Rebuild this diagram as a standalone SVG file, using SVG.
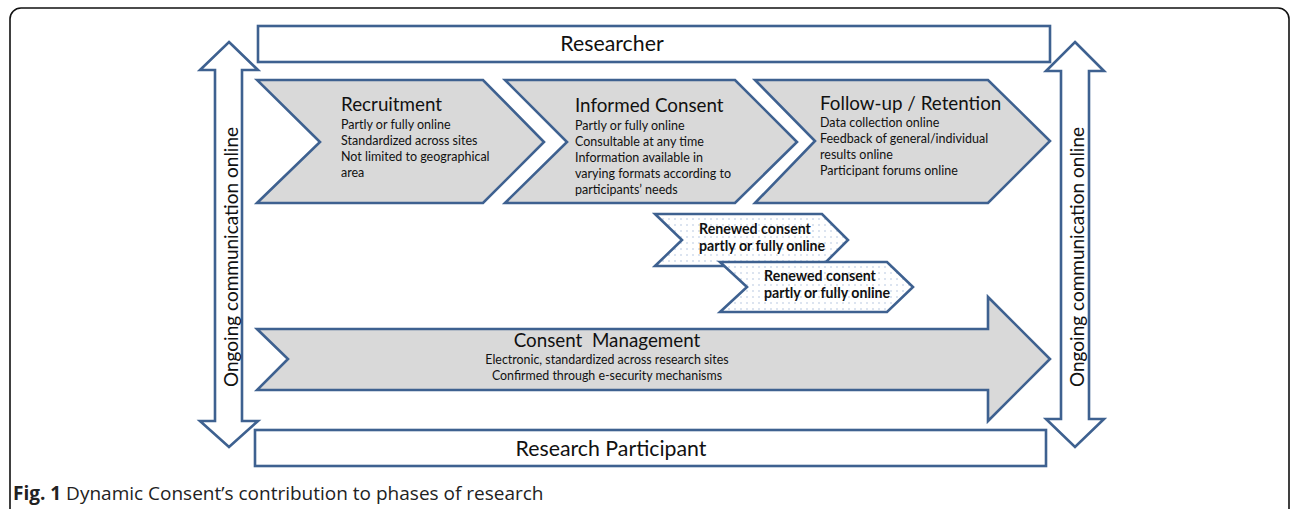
<svg xmlns="http://www.w3.org/2000/svg" width="1292" height="509" viewBox="0 0 1292 509">
<style>
.sh{stroke:#3e6190;stroke-width:2.6;stroke-linejoin:miter}
.g{fill:#d9d9d9}
.w{fill:#ffffff}
.d{fill:url(#dots)}
text{font-family:Lato,"Open Sans","Liberation Sans",sans-serif;fill:#111}
.t{font-size:18.8px}
.b{font-size:12.5px}
.cm{font-size:12.4px}
.rb{font-size:14.2px;font-weight:bold}
.big{font-size:21.3px}
.og{font-size:19px}
.cap{font-family:"Open Sans","Liberation Sans",sans-serif;font-size:19px;fill:#222}
</style>
<defs>
<pattern id="dots" width="6" height="6" patternUnits="userSpaceOnUse">
<rect width="6" height="6" fill="#ffffff"/>
<circle cx="3" cy="3" r="0.7" fill="#9fb4d8"/>
</pattern>
</defs>
<rect x="0" y="0" width="1292" height="509" fill="#ffffff"/>
<rect x="10" y="8" width="1279" height="520" rx="11" fill="none" stroke="#111" stroke-width="1.6"/>

<g id="researcher">
<rect class="sh w" x="258" y="26" width="792" height="36"/>
<text class="big" x="612" y="51" text-anchor="middle">Researcher</text>
</g>

<g id="participant">
<rect class="sh w" x="255" y="430" width="791" height="36"/>
<text class="big" x="611" y="456" text-anchor="middle">Research Participant</text>
</g>

<g id="left-arrow">
<polygon class="sh w" points="229,42 258,70 242,70 242,421 258,421 229,447 200,421 215,421 215,70 200,70"/>
<text class="og" transform="translate(238,257) rotate(-90)" text-anchor="middle">Ongoing communication online</text>
</g>

<g id="right-arrow">
<polygon class="sh w" points="1075,42 1104,71 1089,71 1089,419 1104,419 1075,447 1046,419 1061,419 1061,71 1046,71"/>
<text class="og" transform="translate(1084,257) rotate(-90)" text-anchor="middle">Ongoing communication online</text>
</g>

<g id="recruitment">
<polygon class="sh g" points="257,80 483,80 544,142 483,203 257,203 320,142"/>
<text class="t" x="341" y="111">Recruitment</text>
<text class="b" x="341" y="129">Partly or fully online</text>
<text class="b" x="341" y="145">Standardized across sites</text>
<text class="b" x="341" y="161">Not limited to geographical</text>
<text class="b" x="341" y="177">area</text>
</g>

<g id="informed-consent">
<polygon class="sh g" points="505,80 735,80 797,142 735,203 505,203 567,142"/>
<text class="t" x="575" y="112">Informed Consent</text>
<text class="b" x="575" y="130">Partly or fully online</text>
<text class="b" x="575" y="146">Consultable at any time</text>
<text class="b" x="575" y="162">Information available in</text>
<text class="b" x="575" y="178">varying formats according to</text>
<text class="b" x="575" y="194">participants’ needs</text>
</g>

<g id="follow-up">
<polygon class="sh g" points="755,80 988,80 1050,141 988,203 755,203 815,141"/>
<text class="t" x="820" y="110">Follow-up / Retention</text>
<text class="b" x="820" y="127">Data collection online</text>
<text class="b" x="820" y="143">Feedback of general/individual</text>
<text class="b" x="820" y="159">results online</text>
<text class="b" x="820" y="175">Participant forums online</text>
</g>

<g id="renewed-1">
<polygon class="sh d" points="655,214 822,214 848,240 822,266 655,266 682,240"/>
<text class="rb" x="699" y="234">Renewed consent</text>
<text class="rb" x="699" y="251">partly or fully online</text>
</g>

<g id="renewed-2">
<polygon class="sh d" points="720,262 887,262 913,287 887,312 720,312 747,287"/>
<text class="rb" x="764" y="281">Renewed consent</text>
<text class="rb" x="764" y="298">partly or fully online</text>
</g>

<g id="consent-management">
<polygon class="sh g" points="257,329 988,329 988,297 1050,359 988,421 988,390 257,390 288,359"/>
<text class="t" x="607" y="347" text-anchor="middle" xml:space="preserve">Consent  Management</text>
<text class="cm" x="607" y="364" text-anchor="middle">Electronic, standardized across research sites</text>
<text class="cm" x="607" y="380" text-anchor="middle">Confirmed through e-security mechanisms</text>
</g>

<g id="connectors"></g>

<g id="caption">
<text class="cap" x="13" y="500"><tspan font-weight="bold">Fig. 1</tspan> Dynamic Consent’s contribution to phases of research</text>
</g>
</svg>
